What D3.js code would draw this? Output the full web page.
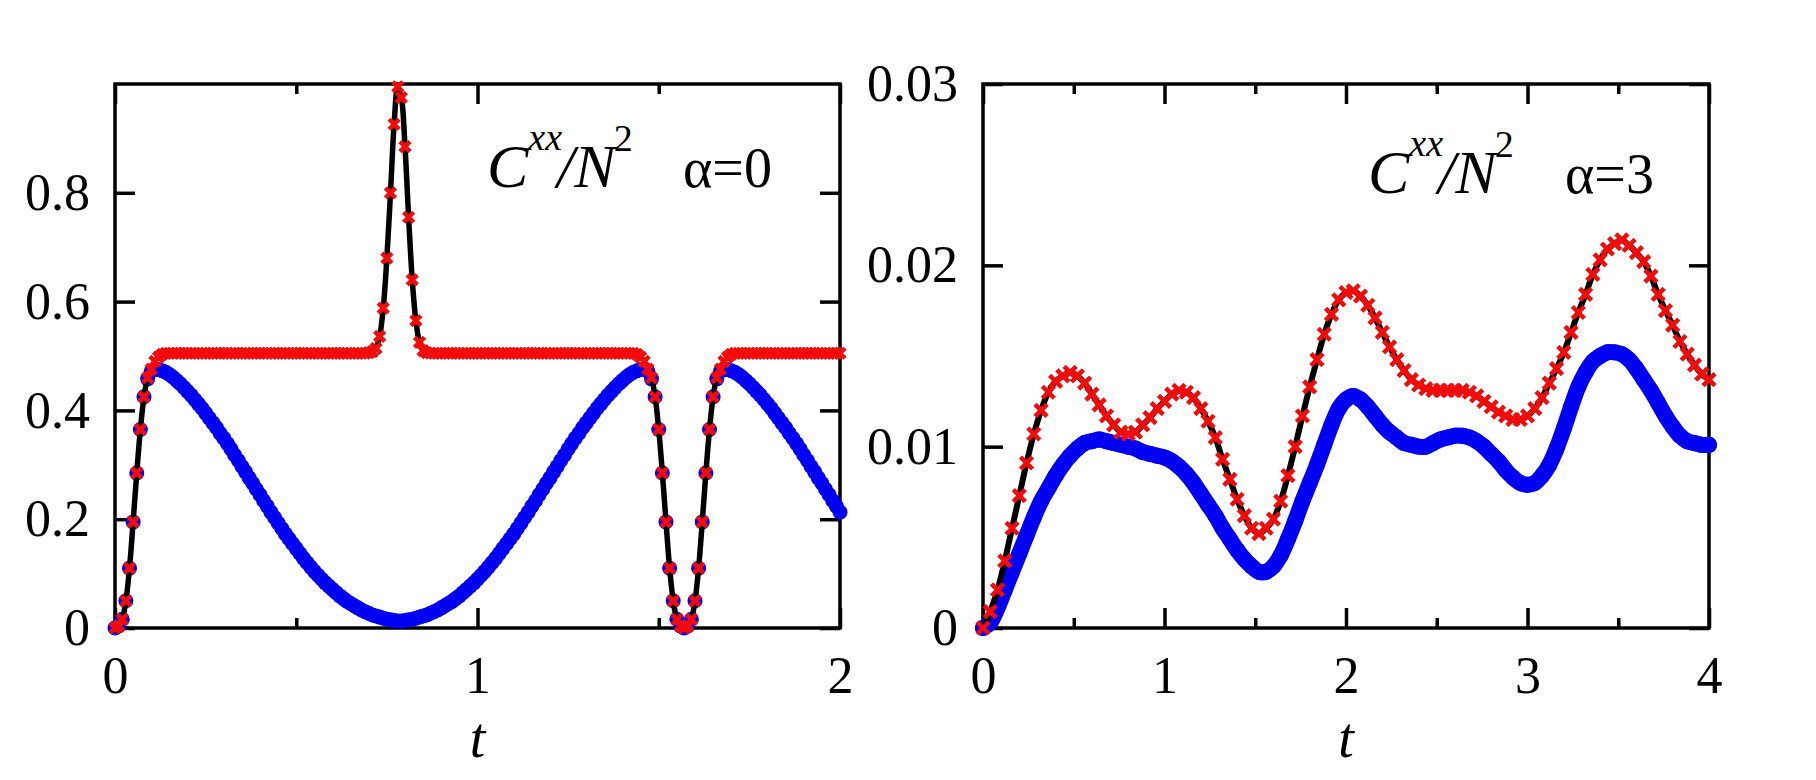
<!DOCTYPE html>
<html>
<head>
<meta charset="utf-8">
<script src="https://cdn.jsdelivr.net/npm/d3@7"></script>
<style>
  html, body { margin: 0; padding: 0; background: #fff; }
  svg { display: block; }
</style>
</head>
<body>
<div id="chart"></div>
<script>
// Cxx/N^2 vs t, two panels (alpha = 0 and alpha = 3)

// left panel, sampled every 0.01 in t from 0 to 2
const leftStep = 0.01;
const leftRed = [
  0, 0.004, 0.016, 0.05, 0.11, 0.195, 0.285, 0.365, 0.425, 0.46,
  0.476, 0.49, 0.498, 0.503, 0.505, 0.505, 0.505, 0.505, 0.505, 0.505,
  0.505, 0.505, 0.505, 0.505, 0.505, 0.505, 0.505, 0.505, 0.505, 0.505,
  0.505, 0.505, 0.505, 0.505, 0.505, 0.505, 0.505, 0.505, 0.505, 0.505,
  0.505, 0.505, 0.505, 0.505, 0.505, 0.505, 0.505, 0.505, 0.505, 0.505,
  0.505, 0.505, 0.505, 0.505, 0.505, 0.505, 0.505, 0.505, 0.505, 0.505,
  0.505, 0.505, 0.505, 0.505, 0.505, 0.505, 0.505, 0.505, 0.505, 0.505,
  0.506, 0.508, 0.514, 0.536, 0.588, 0.68, 0.8, 0.926, 0.995, 0.975,
  0.885, 0.755, 0.64, 0.565, 0.525, 0.51, 0.506, 0.505, 0.505, 0.505,
  0.505, 0.505, 0.505, 0.505, 0.505, 0.505, 0.505, 0.505, 0.505, 0.505,
  0.505, 0.505, 0.505, 0.505, 0.505, 0.505, 0.505, 0.505, 0.505, 0.505,
  0.505, 0.505, 0.505, 0.505, 0.505, 0.505, 0.505, 0.505, 0.505, 0.505,
  0.505, 0.505, 0.505, 0.505, 0.505, 0.505, 0.505, 0.505, 0.505, 0.505,
  0.505, 0.505, 0.505, 0.505, 0.505, 0.505, 0.505, 0.505, 0.505, 0.505,
  0.505, 0.505, 0.505, 0.505, 0.503, 0.498, 0.49, 0.476, 0.46, 0.425,
  0.365, 0.285, 0.195, 0.11, 0.05, 0.016, 0.004, 0, 0.004, 0.016,
  0.05, 0.11, 0.195, 0.285, 0.365, 0.425, 0.46, 0.476, 0.49, 0.498,
  0.503, 0.505, 0.505, 0.505, 0.505, 0.505, 0.505, 0.505, 0.505, 0.505,
  0.505, 0.505, 0.505, 0.505, 0.505, 0.505, 0.505, 0.505, 0.505, 0.505,
  0.505, 0.505, 0.505, 0.505, 0.505, 0.505, 0.505, 0.505, 0.505, 0.505,
  0.505
];
const leftBlue = [
  0, 0.004, 0.016, 0.05, 0.11, 0.195, 0.285, 0.365, 0.425, 0.458,
  0.472, 0.476, 0.475, 0.473, 0.470, 0.466, 0.461, 0.455, 0.449, 0.442,
  0.435, 0.428, 0.420, 0.412, 0.404, 0.395, 0.386, 0.377, 0.368, 0.358,
  0.349, 0.339, 0.329, 0.318, 0.308, 0.297, 0.287, 0.276, 0.266, 0.255,
  0.245, 0.234, 0.224, 0.213, 0.203, 0.193, 0.183, 0.173, 0.164, 0.155,
  0.146, 0.137, 0.128, 0.120, 0.112, 0.104, 0.097, 0.090, 0.083, 0.077,
  0.071, 0.065, 0.059, 0.054, 0.049, 0.045, 0.041, 0.037, 0.033, 0.030,
  0.027, 0.024, 0.022, 0.020, 0.018, 0.016, 0.015, 0.014, 0.013, 0.013,
  0.014, 0.015, 0.016, 0.018, 0.020, 0.022, 0.024, 0.027, 0.030, 0.033,
  0.037, 0.041, 0.045, 0.049, 0.054, 0.059, 0.065, 0.071, 0.077, 0.083,
  0.090, 0.097, 0.104, 0.112, 0.120, 0.128, 0.137, 0.146, 0.155, 0.164,
  0.173, 0.183, 0.193, 0.203, 0.213, 0.224, 0.234, 0.245, 0.255, 0.266,
  0.276, 0.287, 0.297, 0.308, 0.318, 0.329, 0.339, 0.349, 0.358, 0.368,
  0.377, 0.386, 0.395, 0.404, 0.412, 0.420, 0.428, 0.435, 0.442, 0.449,
  0.455, 0.461, 0.466, 0.470, 0.473, 0.475, 0.476, 0.472, 0.458, 0.425,
  0.365, 0.285, 0.195, 0.11, 0.05, 0.016, 0.004, 0, 0.004, 0.016,
  0.05, 0.11, 0.195, 0.285, 0.365, 0.425, 0.458, 0.472, 0.476, 0.475,
  0.473, 0.470, 0.466, 0.461, 0.455, 0.449, 0.442, 0.435, 0.428, 0.420,
  0.412, 0.404, 0.395, 0.386, 0.377, 0.368, 0.358, 0.349, 0.339, 0.329,
  0.318, 0.308, 0.297, 0.287, 0.276, 0.266, 0.255, 0.245, 0.234, 0.224,
  0.213
];

// right panel, sampled every 0.04 in t from 0 to 4
const rightStep = 0.04;
const rightRed = [
  0.0000, 0.0009, 0.0021, 0.0037, 0.0055, 0.0073, 0.0091, 0.0107, 0.0120, 0.0130,
  0.0136, 0.0139, 0.0141, 0.0139, 0.0135, 0.0129, 0.0123, 0.0117, 0.0112, 0.0108,
  0.0107, 0.0108, 0.0112, 0.0116, 0.0121, 0.0125, 0.0129, 0.0131, 0.0130, 0.0127,
  0.0121, 0.0114, 0.0105, 0.0093, 0.0082, 0.0071, 0.0062, 0.0055, 0.0052, 0.0055,
  0.0060, 0.0070, 0.0084, 0.0100, 0.0117, 0.0133, 0.0148, 0.0162, 0.0173, 0.0181,
  0.0185, 0.0186, 0.0183, 0.0178, 0.0171, 0.0163, 0.0155, 0.0148, 0.0142, 0.0137,
  0.0134, 0.0132, 0.0131, 0.0131, 0.0131, 0.0131, 0.0131, 0.0130, 0.0128, 0.0125,
  0.0122, 0.0119, 0.0117, 0.0115, 0.0115, 0.0117, 0.0121, 0.0127, 0.0135, 0.0143,
  0.0152, 0.0163, 0.0174, 0.0184, 0.0195, 0.0203, 0.0209, 0.0212, 0.0214, 0.0211,
  0.0207, 0.0202, 0.0194, 0.0184, 0.0175, 0.0167, 0.0158, 0.0151, 0.0145, 0.0140,
  0.0137
];
const rightBlue = [
  0.0000, 0.0003, 0.0011, 0.0021, 0.0031, 0.0041, 0.0051, 0.0061, 0.0070, 0.0077,
  0.0084, 0.0090, 0.0095, 0.0099, 0.0102, 0.0103, 0.0104, 0.0103, 0.0102, 0.0101,
  0.0100, 0.0099, 0.0097, 0.0096, 0.0095, 0.0094, 0.0092, 0.0089, 0.0085, 0.0080,
  0.0074, 0.0068, 0.0062, 0.0055, 0.0049, 0.0043, 0.0038, 0.0034, 0.0031, 0.0031,
  0.0034, 0.0040, 0.0049, 0.0059, 0.0070, 0.0080, 0.0090, 0.0101, 0.0112, 0.0121,
  0.0126, 0.0128, 0.0126, 0.0122, 0.0117, 0.0112, 0.0108, 0.0105, 0.0102, 0.0101,
  0.0100, 0.0100, 0.0102, 0.0104, 0.0105, 0.0106, 0.0106, 0.0105, 0.0103, 0.0100,
  0.0096, 0.0092, 0.0087, 0.0083, 0.0080, 0.0079, 0.0080, 0.0084, 0.0090, 0.0099,
  0.0110, 0.0122, 0.0133, 0.0141, 0.0147, 0.0150, 0.0152, 0.0152, 0.0151, 0.0148,
  0.0143, 0.0137, 0.0131, 0.0124, 0.0117, 0.0111, 0.0106, 0.0103, 0.0102, 0.0101,
  0.0101
];

const leftXTicks = [0, 1, 2];
const leftXMinor = [0.5, 1.5];
const leftYTicks = [0, 0.2, 0.4, 0.6, 0.8];
const rightXTicks = [0, 1, 2, 3, 4];
const rightXMinor = [0.5, 1.5, 2.5, 3.5];
const rightYTicks = [0, 0.01, 0.02, 0.03];
const leftAlpha = "α=0";
const rightAlpha = "α=3";

const width = 1816, height = 780;
const serif = "'Liberation Serif', 'Times New Roman', serif";
const redColor = "#f50a0a", blueColor = "#0000f2";

const svg = d3.select("#chart").append("svg")
    .attr("width", width).attr("height", height)
    .style("font-family", serif);

function drawPanel(p) {
    const w = p.width, h = p.height;
    const g = svg.append("g").attr("transform", `translate(${p.left},${p.top})`);

    const x = d3.scaleLinear().domain(p.xDomain).range([0, w]);
    const y = d3.scaleLinear().domain(p.yDomain).range([h, 0]);

    const red = p.red.map((v, i) => ({ t: i * p.step, v }));
    const blue = p.blue.map((v, i) => ({ t: i * p.step, v }));

    const styleAxis = sel => {
        sel.attr("font-family", serif).attr("font-size", 52);
        sel.select(".domain").remove();
        sel.selectAll(".tick line").attr("stroke", "#000").attr("stroke-width", 3.5);
        sel.selectAll(".tick text").attr("fill", "#000");
    };

    // major + minor ticks, all inward, on all four sides
    g.append("g").attr("transform", `translate(0,${h})`)
        .call(d3.axisBottom(x).tickValues(p.xTicks).tickSize(-20).tickPadding(28).tickFormat(d => String(d)))
        .call(styleAxis);
    g.append("g").attr("transform", `translate(0,${h})`)
        .call(d3.axisBottom(x).tickValues(p.xMinor).tickSize(-10).tickFormat(""))
        .call(styleAxis);
    g.append("g")
        .call(d3.axisTop(x).tickValues(p.xTicks).tickSize(-20).tickFormat(""))
        .call(styleAxis);
    g.append("g")
        .call(d3.axisTop(x).tickValues(p.xMinor).tickSize(-10).tickFormat(""))
        .call(styleAxis);
    g.append("g")
        .call(d3.axisLeft(y).tickValues(p.yTicks).tickSize(-20).tickPadding(25).tickFormat(p.yFormat))
        .call(styleAxis);
    g.append("g").attr("transform", `translate(${w},0)`)
        .call(d3.axisRight(y).tickValues(p.yTicks).tickSize(-20).tickFormat(""))
        .call(styleAxis);

    g.append("rect")
        .attr("width", w).attr("height", h)
        .attr("fill", "none").attr("stroke", "#000").attr("stroke-width", 3.5);

    // blue circles (dense enough on the right to read as a band)
    if (p.blueBand) {
        g.append("path").datum(blue)
            .attr("fill", "none").attr("stroke", blueColor)
            .attr("stroke-width", 16).attr("stroke-linecap", "round").attr("stroke-linejoin", "round")
            .attr("d", d3.line().x(d => x(d.t)).y(d => y(d.v)).curve(d3.curveCatmullRom));
    }
    g.append("g").selectAll("circle")
        .data(blue)
        .enter()
        .append("circle")
        .attr("cx", d => x(d.t))
        .attr("cy", d => y(d.v))
        .attr("r", p.blueR)
        .attr("fill", blueColor);

    // exact result, black line
    g.append("path").datum(red)
        .attr("fill", "none").attr("stroke", "#000").attr("stroke-width", p.lineW)
        .attr("d", d3.line().x(d => x(d.t)).y(d => y(d.v)).curve(d3.curveCatmullRom));

    // red crosses
    const s = p.crossS;
    g.append("g").selectAll("path")
        .data(red)
        .enter()
        .append("path")
        .attr("transform", d => `translate(${x(d.t)},${y(d.v)})`)
        .attr("d", `M${-s},${-s}L${s},${s}M${-s},${s}L${s},${-s}`)
        .attr("fill", "none")
        .attr("stroke", redColor)
        .attr("stroke-width", 4.5);

    // axis title
    g.append("text")
        .attr("x", w / 2).attr("y", h + 129)
        .attr("text-anchor", "middle")
        .attr("font-size", 56).attr("font-style", "italic")
        .text("t");

    // in-plot annotation: C^xx/N^2   alpha=..
    const a = g.append("text").attr("x", p.annot.x).attr("y", p.annot.y).attr("fill", "#000");
    a.append("tspan").attr("font-size", 62).attr("font-style", "italic").text("C");
    a.append("tspan").attr("font-size", 38).attr("font-style", "italic").attr("dy", -37).text("xx");
    a.append("tspan").attr("font-size", 62).attr("font-style", "italic").attr("dx", -5).attr("dy", 37).text("/N");
    a.append("tspan").attr("font-size", 38).attr("dx", -2).attr("dy", -36).text("2");
    a.append("tspan").attr("font-size", 56).attr("x", p.annot.alphaX).attr("dy", 36).text(p.alpha);
}

drawPanel({
    left: 115, top: 84, width: 725, height: 544,
    xDomain: [0, 2], yDomain: [0, 1], step: leftStep,
    red: leftRed, blue: leftBlue,
    xTicks: leftXTicks, xMinor: leftXMinor, yTicks: leftYTicks,
    yFormat: d => d === 0 ? "0" : d.toFixed(1),
    alpha: leftAlpha, annot: { x: 372, y: 103, alphaX: 568 },
    blueBand: false, blueR: 7.5, lineW: 5.5, crossS: 5
});

drawPanel({
    left: 983, top: 84, width: 726, height: 544,
    xDomain: [0, 4], yDomain: [0, 0.03], step: rightStep,
    red: rightRed, blue: rightBlue,
    xTicks: rightXTicks, xMinor: rightXMinor, yTicks: rightYTicks,
    yFormat: d => d === 0 ? "0" : d.toFixed(2),
    alpha: rightAlpha, annot: { x: 385, y: 109, alphaX: 582 },
    blueBand: true, blueR: 8, lineW: 6, crossS: 6
});
</script>
</body>
</html>
